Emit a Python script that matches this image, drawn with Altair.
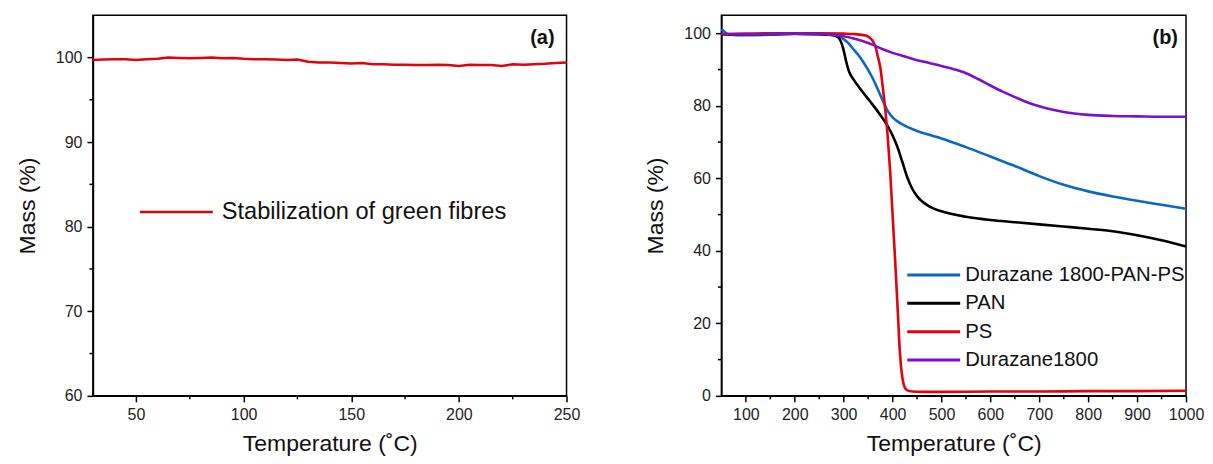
import altair as alt
import pandas as pd

FONT = "Liberation Sans"

# ---------------- Panel (a) data ----------------
a_temp = [30, 35, 40, 45, 50, 55, 60, 65, 70, 75, 80, 85, 90, 95, 100, 105, 110, 115, 120, 125,
          130, 135, 140, 145, 150, 155, 160, 165, 170, 175, 180, 185, 190, 195, 200, 205, 210,
          215, 220, 225, 230, 235, 240, 245, 250]
a_mass = [99.7, 99.75, 99.8, 99.8, 99.7, 99.8, 99.85, 100.0, 99.95, 99.9, 99.95, 100.0, 99.9,
          99.95, 99.85, 99.8, 99.8, 99.75, 99.7, 99.75, 99.5, 99.4, 99.4, 99.35, 99.3, 99.35,
          99.2, 99.2, 99.15, 99.15, 99.1, 99.1, 99.15, 99.1, 99.0, 99.15, 99.1, 99.1, 99.0,
          99.2, 99.15, 99.2, 99.25, 99.35, 99.4]
a_label = "Stabilization of green fibres"

# ---------------- Panel (b) data ----------------
names = ["Durazane 1800-PAN-PS", "PAN", "PS", "Durazane1800"]
colors = ["#0b66c6", "#000000", "#e3000f", "#7a10d0"]

blue_t = [50, 55, 60, 70, 80, 100, 150, 200, 250, 270, 280, 290, 300, 310, 320, 330, 340, 350,
          360, 370, 380, 390, 400, 410, 420, 440, 460, 480, 500, 550, 600, 650, 700, 750, 800,
          850, 900, 950, 1000]
blue_m = [101.0, 100.6, 100.0, 99.6, 99.5, 99.5, 99.6, 99.8, 99.7, 99.6, 99.4, 99.1, 98.4, 97.2,
          95.6, 94.0, 92.1, 89.9, 87.4, 84.5, 81.4, 78.6, 76.8, 75.7, 74.9, 73.6, 72.6, 71.8,
          71.0, 68.6, 66.0, 63.4, 60.6, 58.2, 56.4, 55.0, 53.8, 52.7, 51.6]

black_t = [50, 100, 150, 200, 250, 270, 280, 285, 290, 295, 300, 305, 310, 320, 330, 340, 350,
           360, 370, 380, 390, 400, 410, 420, 430, 440, 450, 460, 470, 480, 500, 550, 600, 650,
           700, 750, 800, 850, 900, 950, 1000]
black_m = [99.7, 99.7, 99.8, 99.9, 99.8, 99.7, 99.5, 99.2, 98.7, 97.5, 95.3, 92.3, 89.8, 87.3,
           85.4, 83.6, 81.9, 80.2, 78.4, 76.5, 74.4, 71.8, 68.6, 64.5, 60.3, 57.2, 55.1, 53.7,
           52.7, 51.9, 50.9, 49.4, 48.5, 47.9, 47.3, 46.7, 46.1, 45.4, 44.3, 42.9, 41.2]

red_t = [50, 100, 150, 200, 250, 300, 320, 340, 350, 355, 360, 365, 370, 375, 380, 385, 390,
         395, 400, 405, 410, 415, 420, 425, 430, 440, 460, 500, 600, 700, 800, 900, 1000]
red_m = [99.8, 99.9, 100.0, 100.0, 100.0, 99.9, 99.8, 99.5, 99.1, 98.6, 97.8, 96.3, 93.5, 90.5,
         85.0, 79.0, 71.5, 62.0, 50.0, 38.0, 25.0, 12.0, 5.0, 2.3, 1.5, 1.2, 1.1, 1.1, 1.2, 1.2,
         1.3, 1.3, 1.4]

purple_t = [50, 100, 150, 200, 250, 280, 300, 320, 340, 360, 380, 400, 425, 450, 475, 500, 525,
            550, 575, 600, 625, 650, 675, 700, 725, 750, 800, 850, 900, 950, 1000]
purple_m = [99.8, 99.7, 99.8, 99.9, 99.8, 99.5, 99.2, 98.6, 97.8, 96.8, 95.6, 94.6, 93.6, 92.6,
            91.8, 91.0, 90.1, 89.0, 87.4, 85.6, 83.9, 82.4, 81.0, 79.9, 79.0, 78.3, 77.5, 77.2,
            77.1, 77.0, 77.0]

series_t = [blue_t, black_t, red_t, purple_t]
series_m = [blue_m, black_m, red_m, purple_m]

# ---------------- axes ----------------
a_xticks = [50, 100, 150, 200, 250]
a_xminor = [75, 125, 175, 225]
a_yticks = [60, 70, 80, 90, 100]
a_yminor = [65, 75, 85, 95]
b_xticks = [100, 200, 300, 400, 500, 600, 700, 800, 900, 1000]
b_xminor = [150, 250, 350, 450, 550, 650, 750, 850, 950]
b_yticks = [0, 20, 40, 60, 80, 100]
b_yminor = [10, 30, 50, 70, 90]

WA = 474
WB = 465
H = 381
XTITLE = "Temperature (˚C)"
YTITLE = "Mass (%)"


def x_axis(values):
    return alt.Axis(values=values, title=XTITLE, format="d", labelFlush=False,
                    labelOverlap=False, labelPadding=5, titlePadding=10)


def y_axis(values):
    return alt.Axis(values=values, title=YTITLE, format="d", titlePadding=16)


def minor_layers(xscale, yscale, xminor, yminor, xvals, yvals):
    xm = alt.Chart(pd.DataFrame({"T": xminor})).mark_rule(color="black", strokeWidth=1.5).encode(
        x=alt.X("T:Q", scale=xscale, axis=x_axis(xvals)),
        y=alt.value(H), y2=alt.value(H + 3.5))
    ym = alt.Chart(pd.DataFrame({"M": yminor})).mark_rule(color="black", strokeWidth=1.5).encode(
        y=alt.Y("M:Q", scale=yscale, axis=y_axis(yvals)),
        x=alt.value(0), x2=alt.value(-3.5))
    return [xm, ym]


# ---------------- Panel (a) ----------------
xs_a = alt.Scale(domain=[30, 250], nice=False, zero=False)
ys_a = alt.Scale(domain=[60, 105], nice=False, zero=False)

df_a = pd.DataFrame({"T": a_temp, "M": a_mass})
line_a = alt.Chart(df_a).mark_line(color="#e3000f", strokeWidth=2.5).encode(
    x=alt.X("T:Q", scale=xs_a, axis=x_axis(a_xticks)),
    y=alt.Y("M:Q", scale=ys_a, axis=y_axis(a_yticks)))

leg_a_line = alt.Chart(pd.DataFrame({"name": [a_label]})).mark_rule(
    color="#e3000f", strokeWidth=2.5).encode(
    x=alt.value(47), x2=alt.value(120), y=alt.value(197))
leg_a_text = alt.Chart(pd.DataFrame({"name": [a_label]})).mark_text(
    align="left", baseline="middle", fontSize=23.6, font=FONT, color="#111").encode(
    x=alt.value(129), y=alt.value(197), text="name:N")
tag_a = alt.Chart(pd.DataFrame({"tag": ["(a)"]})).mark_text(
    align="right", baseline="middle", fontSize=20, fontWeight="bold", font=FONT, color="#111").encode(
    x=alt.value(WA - 12), y=alt.value(23), text="tag:N")

panel_a = alt.layer(line_a,
                    *minor_layers(xs_a, ys_a, a_xminor, a_yminor, a_xticks, a_yticks),
                    leg_a_line, leg_a_text, tag_a).properties(width=WA, height=H)

# ---------------- Panel (b) ----------------
xs_b = alt.Scale(domain=[50, 1000], nice=False, zero=False)
ys_b = alt.Scale(domain=[0, 105], nice=False, zero=False)

lines_b = []
for i, (name, col) in enumerate(zip(names, colors)):
    df = pd.DataFrame({"T": series_t[i], "M": series_m[i], "name": name})
    lines_b.append(alt.Chart(df).mark_line(color=col, strokeWidth=2.6,
                                             interpolate="monotone").encode(
        x=alt.X("T:Q", scale=xs_b, axis=x_axis(b_xticks)),
        y=alt.Y("M:Q", scale=ys_b, axis=y_axis(b_yticks))))

leg_b = []
for i, (name, col) in enumerate(zip(names, colors)):
    yy = 260 + 28.4 * i
    d = pd.DataFrame({"name": [name]})
    leg_b.append(alt.Chart(d).mark_rule(color=col, strokeWidth=3).encode(
        x=alt.value(186), x2=alt.value(239), y=alt.value(yy)))
    leg_b.append(alt.Chart(d).mark_text(align="left", baseline="middle", fontSize=20.3,
                                        font=FONT, color="#111").encode(
        x=alt.value(244), y=alt.value(yy), text="name:N"))

tag_b = alt.Chart(pd.DataFrame({"tag": ["(b)"]})).mark_text(
    align="right", baseline="middle", fontSize=20, fontWeight="bold", font=FONT, color="#111").encode(
    x=alt.value(WB - 8), y=alt.value(23), text="tag:N")

panel_b = alt.layer(*lines_b,
                    *minor_layers(xs_b, ys_b, b_xminor, b_yminor, b_xticks, b_yticks),
                    *leg_b, tag_b).properties(width=WB, height=H)

chart = alt.hconcat(panel_a, panel_b, spacing=62).properties(
    padding={"left": 7, "top": 6, "right": 0, "bottom": 0},
    background="white"
).configure_view(
    stroke="black", strokeWidth=1.5
).configure_axis(
    grid=False, domainColor="black", domainWidth=1.5, tickColor="black", tickWidth=1.5,
    tickSize=6, labelFontSize=16, labelFont=FONT, labelColor="#222", labelPadding=5,
    titleFontSize=23, titleFont=FONT, titleFontWeight="normal", titleColor="#111"
)

chart.save("out.html", embed_options={"renderer": "svg", "actions": False})
